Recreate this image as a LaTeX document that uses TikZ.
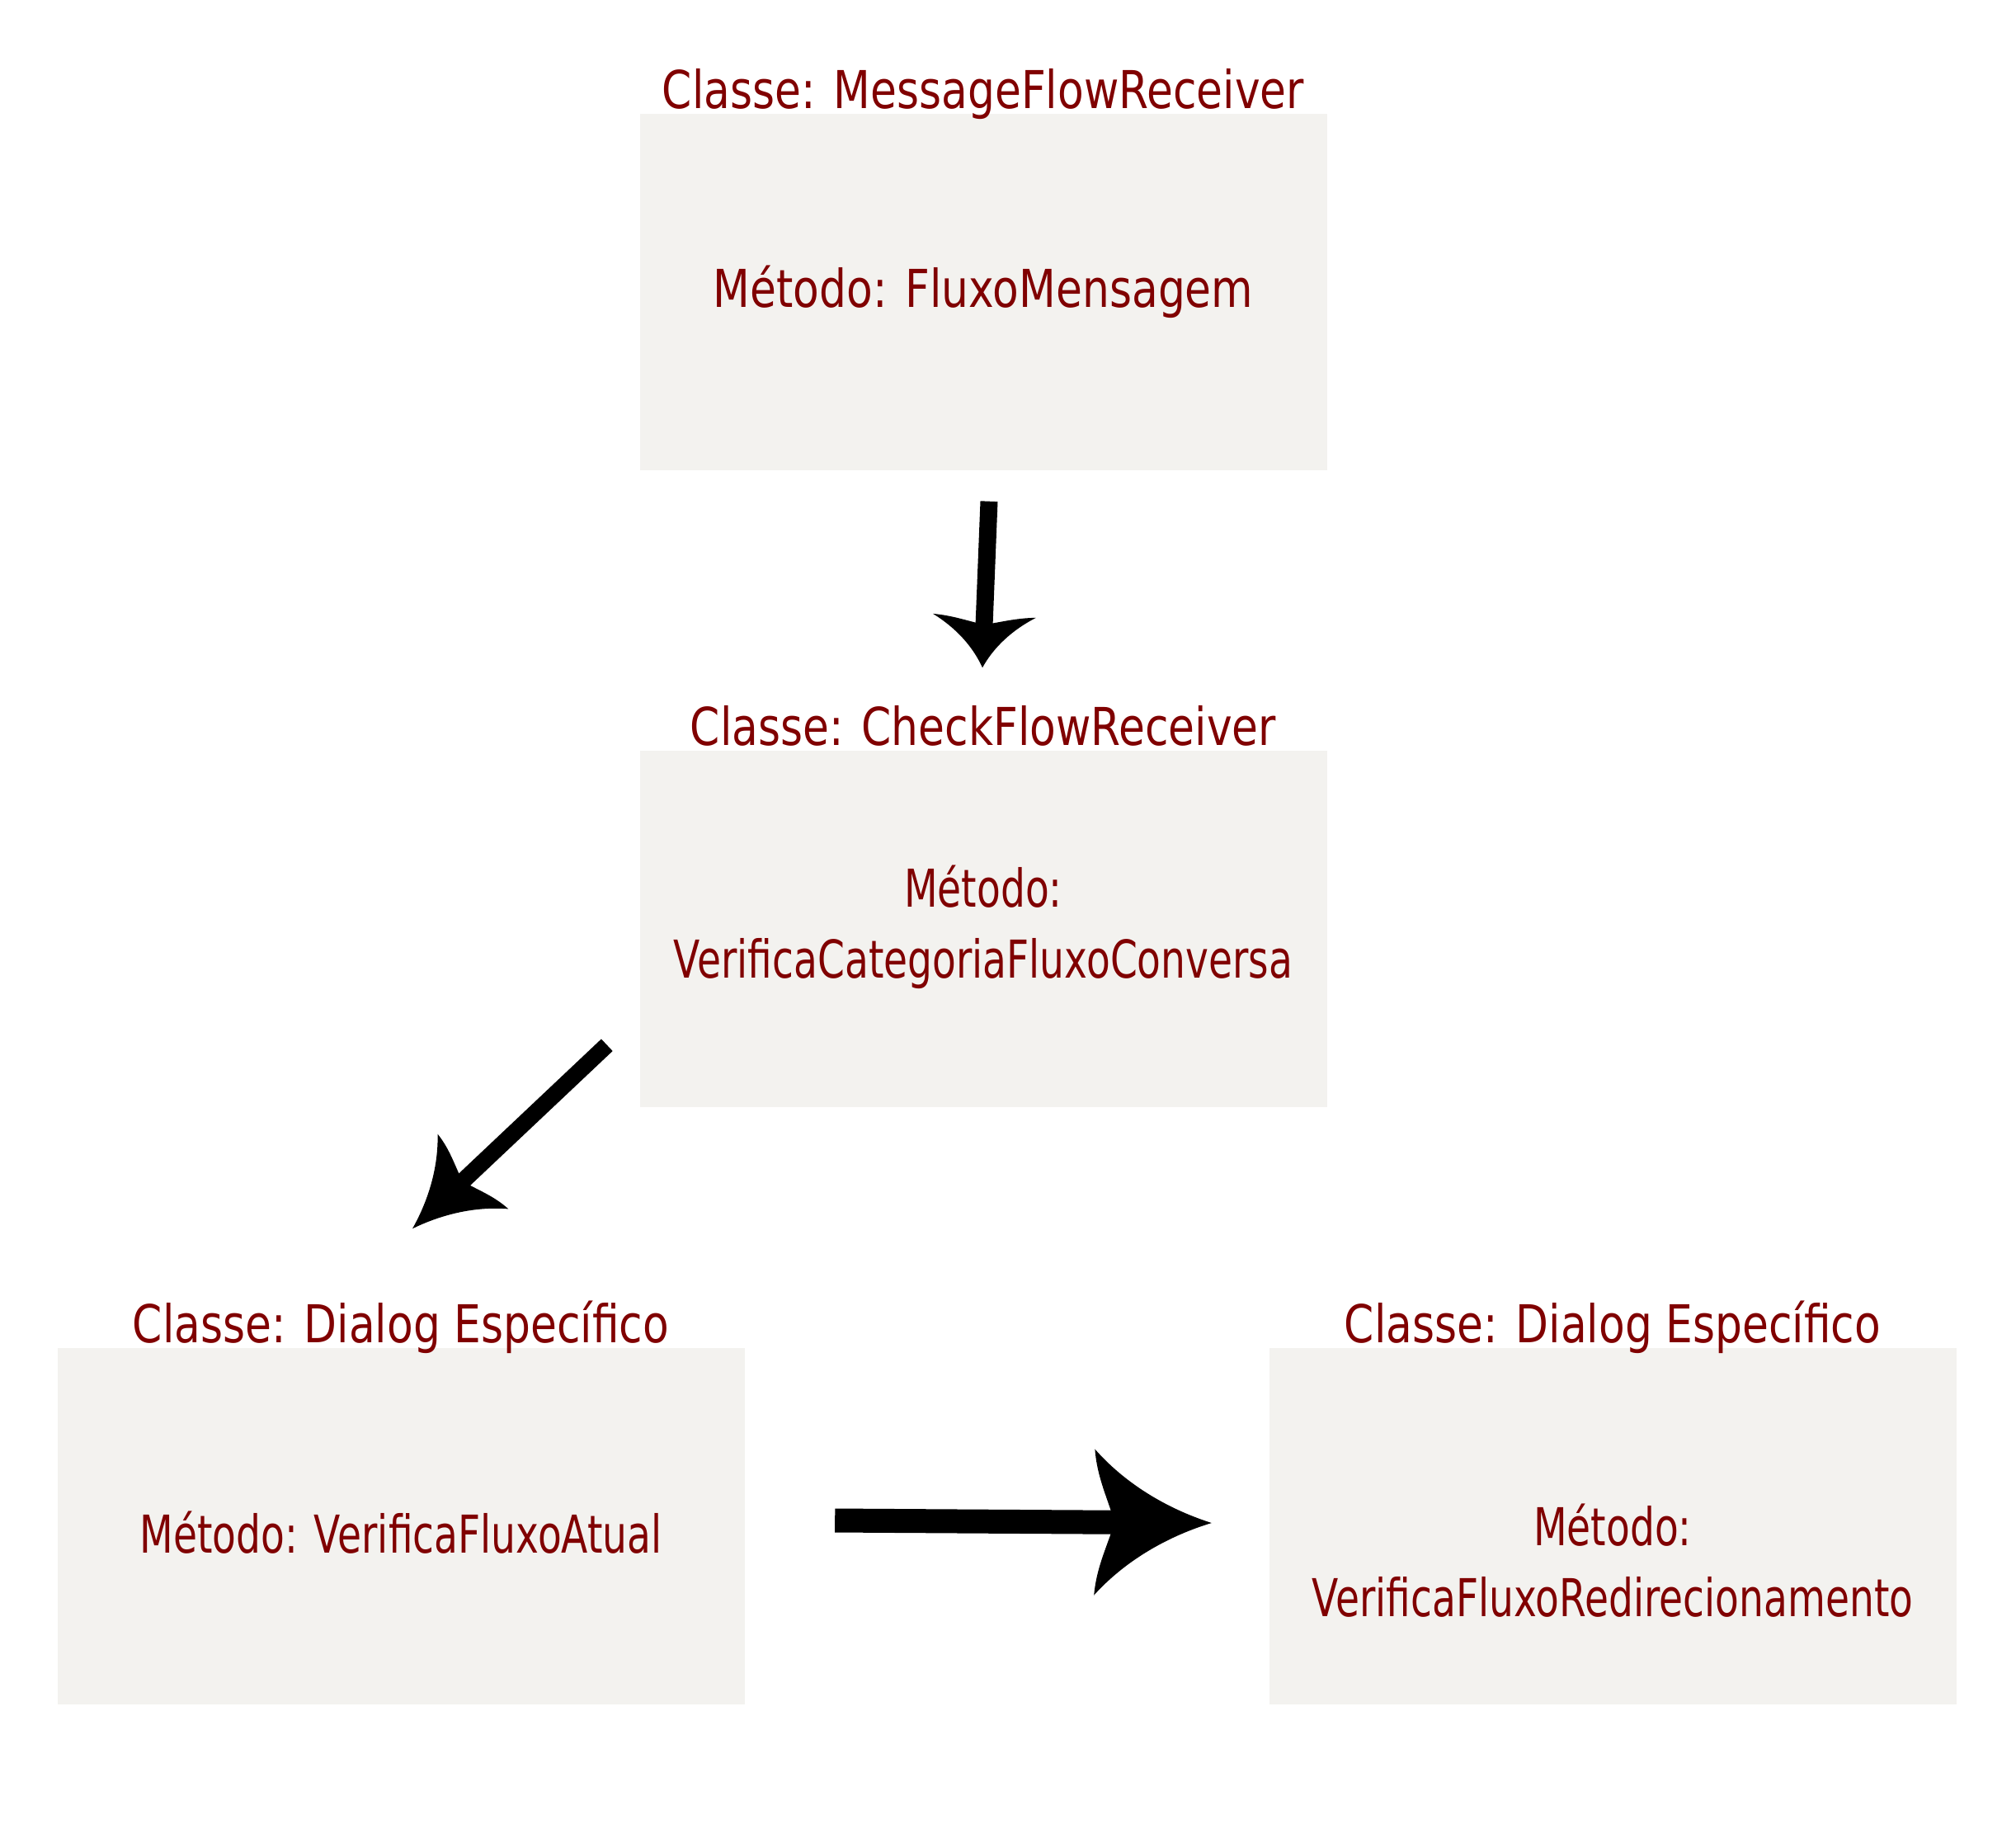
\documentclass[tikz,border=0pt]{standalone}
\usepackage{fontspec}
\setmainfont{DejaVu Sans}[FakeStretch=0.82]
\newfontfamily\narrowfont{DejaVu Sans}[FakeStretch=0.745]
\usepackage{tikz}
\usetikzlibrary{positioning,arrows.meta}
\definecolor{boxfill}{HTML}{F3F2EF}
\definecolor{txtred}{HTML}{800000}
% head with hollow (concave) sides
\pgfdeclarearrow{
  name = Swoop,
  parameters = {\the\pgfarrowlength,\the\pgfarrowwidth},
  setup code = {
    \pgfarrowssettipend{0pt}
    \pgfarrowssetbackend{-\pgfarrowlength}
    \pgfarrowssetlineend{-0.8\pgfarrowlength}
    \pgfarrowssavethe\pgfarrowlength
    \pgfarrowssavethe\pgfarrowwidth
  },
  drawing code = {
    \pgfpathmoveto{\pgfpointorigin}
    \pgfpathcurveto{\pgfpoint{-0.4\pgfarrowlength}{0.1\pgfarrowwidth}}{\pgfpoint{-0.75\pgfarrowlength}{0.275\pgfarrowwidth}}{\pgfpoint{-\pgfarrowlength}{0.5\pgfarrowwidth}}
    \pgfpathcurveto{\pgfpoint{-0.98\pgfarrowlength}{0.3\pgfarrowwidth}}{\pgfpoint{-0.88\pgfarrowlength}{0.15\pgfarrowwidth}}{\pgfpoint{-0.83\pgfarrowlength}{0pt}}
    \pgfpathcurveto{\pgfpoint{-0.88\pgfarrowlength}{-0.15\pgfarrowwidth}}{\pgfpoint{-0.98\pgfarrowlength}{-0.3\pgfarrowwidth}}{\pgfpoint{-\pgfarrowlength}{-0.5\pgfarrowwidth}}
    \pgfpathcurveto{\pgfpoint{-0.75\pgfarrowlength}{-0.275\pgfarrowwidth}}{\pgfpoint{-0.4\pgfarrowlength}{-0.1\pgfarrowwidth}}{\pgfpointorigin}
    \pgfpathclose
    \pgfusepathqfill
  },
  defaults = {length=1cm,width=1cm}
}

\begin{document}
\begin{tikzpicture}[font=\fontsize{18}{24.5}\selectfont,text=txtred]
            \tikzstyle{box}=[fill=boxfill,minimum width=8.33cm,minimum height=4.32cm,inner sep=0pt]
            \tikzstyle{body}=[inner sep=0pt,align=center]
            \tikzstyle{narrow}=[font=\narrowfont\fontsize{18}{24.5}\selectfont]
            \tikzstyle{title}=[anchor=base,inner sep=0pt]
            \tikzstyle{flow}=[line width=0.21cm]
            \useasboundingbox (0,0) rectangle (24.44,-22.16);

            \node[box] (b1) at (11.92,-3.54) {};
            \node[box] (b2) at (11.92,-11.26) {};
            \node[box] (b3) at (4.86,-18.50) {};
            \node[box] (b4) at (19.55,-18.50) {};

            \node[body] (m1) at (b1) {M\'etodo: FluxoMensagem};
            \node[body,narrow] (m2) at ([yshift=0.02cm]b2) {M\'etodo:\\VerificaCategoriaFluxoConversa};
            \node[body,narrow] (m3) at ([yshift=-0.08cm]b3) {M\'etodo: VerificaFluxoAtual};
            \node[body,narrow] (m4) at ([yshift=-0.42cm]b4) {M\'etodo:\\VerificaFluxoRedirecionamento};

            \node[title] (t1) at ([yshift=0.06cm]b1.north) {Classe: MessageFlowReceiver};
            \node[title] (t2) at ([yshift=0.06cm]b2.north) {Classe: CheckFlowReceiver};
            \node[title] (t3) at ([yshift=0.06cm]b3.north) {Classe: Dialog Espec\'ifico};
            \node[title] (t4) at ([yshift=0.06cm]b4.north) {Classe: Dialog Espec\'ifico};

            \draw[flow,-{Swoop[length=0.63cm,width=1.25cm]}] ([shift={(0.07,-0.37)}]b1.south) -- ([shift={(-0.01,1.0)}]b2.north);
            \draw[flow,line width=0.20cm,-{Swoop[length=1.01cm,width=1.25cm]}] ([shift={(-0.39,0.76)}]b2.south west) -- ([shift={(0.14,1.44)}]b3.north);
            \draw[flow,line width=0.29cm,-{Swoop[length=1.42cm,width=1.77cm]}] ([shift={(1.09,0.07)}]b3.east) -- ([shift={(-0.69,0.04)}]b4.west);
        \end{tikzpicture}
\end{document}
